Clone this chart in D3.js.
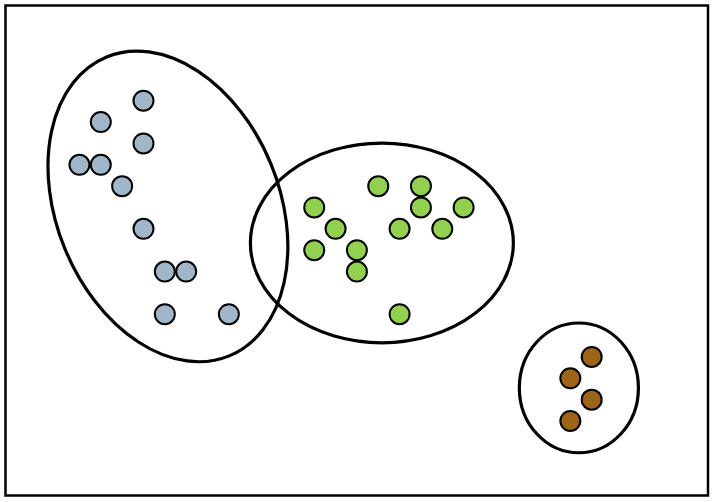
<!DOCTYPE html>
<html>
<head>
<meta charset="utf-8">
<script src="https://cdn.jsdelivr.net/npm/d3@7"></script>
<style>
html,body{margin:0;padding:0;background:#fff;}
svg{display:block;}
</style>
</head>
<body>
<svg id="chart" width="712" height="502"></svg>
<script>
// Cluster points (grid units)
const blueX = [4, 2, 4, 1, 2, 3, 4, 5, 6, 5, 8];
const blueY = [15, 14, 13, 12, 12, 11, 9, 7, 7, 5, 5];
const greenX = [15, 17, 12, 17, 19, 13, 16, 18, 12, 14, 14, 16];
const greenY = [11, 11, 10, 10, 10, 9, 9, 9, 8, 8, 7, 5];
const brownX = [25, 24, 25, 24];
const brownY = [3, 2, 1, 0];
const clusterNames = ["blue", "green", "brown"];
const clusterColors = ["#a0b7c9", "#92d050", "#9c6414"];
// Ellipses: center (data), semi-axes (data), rotation (deg)
const ellipseCX = [5.145, 15.17, 24.4];
const ellipseCY = [10.05, 8.34, 1.55];
const ellipseRX = [7.57, 6.16, 2.79];
const ellipseRY = [5.22, 4.68, 3.04];
const ellipseRot = [67.7, 0, 0];

(function () {
const svg = d3.select("#chart");
const mLeft = 5.5, mRight = 708, mTop = 5.5, mBottom = 495.5;
const x = d3.scaleLinear().domain([-2.465, 30.45]).range([mLeft, mRight]);
const y = d3.scaleLinear().domain([-3.49, 19.46]).range([mBottom, mTop]);
const unit = x(1) - x(0);

svg.append("rect")
  .attr("x", mLeft).attr("y", mTop)
  .attr("width", mRight - mLeft).attr("height", mBottom - mTop)
  .attr("fill", "#fff").attr("stroke", "#000").attr("stroke-width", 2.5);

const sets = [
  {xs: blueX, ys: blueY},
  {xs: greenX, ys: greenY},
  {xs: brownX, ys: brownY}
];

sets.forEach((s, i) => {
  const pts = s.xs.map((v, j) => ({x: v, y: s.ys[j]}));
  svg.append("g").attr("class", "pts-" + clusterNames[i])
    .selectAll("circle").data(pts).join("circle")
    .attr("cx", d => x(d.x)).attr("cy", d => y(d.y))
    .attr("r", 10)
    .attr("fill", clusterColors[i])
    .attr("stroke", "#000").attr("stroke-width", 2);
});

const ellipses = ellipseCX.map((cx, i) => ({cx, cy: ellipseCY[i], rx: ellipseRX[i], ry: ellipseRY[i], rot: ellipseRot[i]}));
svg.append("g").selectAll("ellipse").data(ellipses).join("ellipse")
  .attr("transform", d => `translate(${x(d.cx)},${y(d.cy)}) rotate(${d.rot})`)
  .attr("rx", d => d.rx * unit).attr("ry", d => d.ry * unit)
  .attr("fill", "none").attr("stroke", "#000").attr("stroke-width", 3.2);
})();
</script>
</body>
</html>
